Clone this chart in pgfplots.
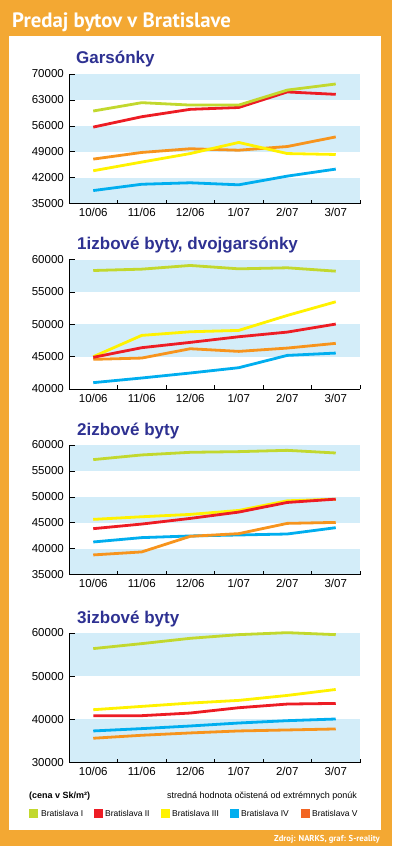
\documentclass[border=0pt]{standalone}
\usepackage{fontspec}
\setmainfont{Liberation Sans}
\newfontfamily\titlefont{PT Sans}
\usepackage{pgfplots}
\pgfplotsset{compat=1.18}
\definecolor{bg}{HTML}{F3A833}
\definecolor{band}{HTML}{D3EDF9}
\definecolor{navy}{HTML}{2E3192}
\definecolor{cI}{HTML}{C2D82E}
\definecolor{cII}{HTML}{ED1C24}
\definecolor{cIII}{HTML}{FFF200}
\definecolor{cIV}{HTML}{00AEEF}
\definecolor{cV}{HTML}{F7941D}
\definecolor{cVleg}{HTML}{F26522}
\pgfplotsset{mychart/.style={
  scale only axis, width=291pt, height=129.5pt,
  xmin=-0.5, xmax=5.5,
  axis x line*=bottom, axis y line*=left,
  axis on top,
  xtick={0,...,5}, xticklabels={10/06,11/06,12/06,1/07,2/07,3/07},
  minor xtick={0.5,1.5,2.5,3.5,4.5,5.5},
  major x tick style={draw=none},
  minor tick length=4pt,
  tick align=inside,
  major tick length=6pt,
  tick style={black, line width=0.6pt},
  axis line style={line width=0.8pt},
  ticklabel style={font=\fontsize{11.5}{12}\selectfont},
  scaled y ticks=false,
  /pgf/number format/assume math mode=true,
  /pgf/number format/1000 sep={},
  yticklabel style={inner sep=0pt, xshift=-5pt},
  xticklabel style={yshift=-1.5pt},
  anchor=north west, clip=false,
  every axis plot/.append style={line width=2.8pt, line join=round, no markers}
}}
\begin{document}
\begin{tikzpicture}
\path[use as bounding box, fill=bg] (0pt,0pt) rectangle (392pt,-846pt);
\fill[white] (9pt,-36pt) rectangle (381pt,-830pt);
\node[anchor=base west, inner sep=0pt, text=white] at (12pt,-27pt) {\titlefont\bfseries\fontsize{20.8}{22}\selectfont Predaj bytov v Bratislave};
\node[anchor=base east, inner sep=0pt, text=white] at (380pt,-841pt) {\titlefont\bfseries\fontsize{8.6}{9}\selectfont Zdroj: NARKS, graf: S-reality};

% Chart 1
\node[anchor=base west, inner sep=0pt, text=navy] at (76pt,-63pt) {\bfseries\fontsize{17}{18}\selectfont Garsónky};
\begin{axis}[mychart, at={(69pt,-74pt)}, ymin=35000, ymax=70000, ytick={35000,42000,49000,56000,63000,70000}]
\addplot[draw=none, fill=band] coordinates {(-0.5,63000) (5.5,63000) (5.5,70000) (-0.5,70000)} -- cycle;
\addplot[draw=none, fill=band] coordinates {(-0.5,49000) (5.5,49000) (5.5,56000) (-0.5,56000)} -- cycle;
\addplot[draw=none, fill=band] coordinates {(-0.5,35000) (5.5,35000) (5.5,42000) (-0.5,42000)} -- cycle;
\addplot[cIV] coordinates {(0,38500) (1,40200) (2,40600) (3,40050) (4,42400) (5,44300)};
\addplot[cV] coordinates {(0,47000) (1,48800) (2,49800) (3,49400) (4,50400) (5,53000)};
\addplot[cIII] coordinates {(0,43850) (1,46200) (2,48500) (3,51500) (4,48500) (5,48250)};
\addplot[cII] coordinates {(0,55650) (1,58450) (2,60450) (3,60950) (4,65150) (5,64500)};
\addplot[cI] coordinates {(0,60000) (1,62250) (2,61600) (3,61600) (4,65650) (5,67300)};
\end{axis}

% Chart 2
\node[anchor=base west, inner sep=0pt, text=navy] at (77pt,-249pt) {\bfseries\fontsize{17}{18}\selectfont 1izbové byty, dvojgarsónky};
\begin{axis}[mychart, at={(69pt,-259.5pt)}, ymin=40000, ymax=60000, ytick={40000,45000,...,60000}]
\addplot[draw=none, fill=band] coordinates {(-0.5,55000) (5.5,55000) (5.5,60000) (-0.5,60000)} -- cycle;
\addplot[draw=none, fill=band] coordinates {(-0.5,45000) (5.5,45000) (5.5,50000) (-0.5,50000)} -- cycle;
\addplot[cIV] coordinates {(0,40980) (1,41700) (2,42470) (3,43290) (4,45190) (5,45550)};
\addplot[cV] coordinates {(0,44580) (1,44780) (2,46220) (3,45810) (4,46320) (5,47050)};
\addplot[cIII] coordinates {(0,44990) (1,48280) (2,48840) (3,49050) (4,51360) (5,53470)};
\addplot[cII] coordinates {(0,44890) (1,46380) (2,47200) (3,48070) (4,48790) (5,50030)};
\addplot[cI] coordinates {(0,58300) (1,58510) (2,59080) (3,58560) (4,58720) (5,58200)};
\end{axis}

% Chart 3
\node[anchor=base west, inner sep=0pt, text=navy] at (77pt,-435pt) {\bfseries\fontsize{17}{18}\selectfont 2izbové byty};
\begin{axis}[mychart, at={(69pt,-445pt)}, ymin=35000, ymax=60000, ytick={35000,40000,...,60000}]
\addplot[draw=none, fill=band] coordinates {(-0.5,55000) (5.5,55000) (5.5,60000) (-0.5,60000)} -- cycle;
\addplot[draw=none, fill=band] coordinates {(-0.5,45000) (5.5,45000) (5.5,50000) (-0.5,50000)} -- cycle;
\addplot[draw=none, fill=band] coordinates {(-0.5,35000) (5.5,35000) (5.5,40000) (-0.5,40000)} -- cycle;
\addplot[cIV] coordinates {(0,41280) (1,42120) (2,42440) (3,42630) (4,42820) (5,44040)};
\addplot[cV] coordinates {(0,38780) (1,39360) (2,42370) (3,42890) (4,44870) (5,45060)};
\addplot[cIII] coordinates {(0,45640) (1,46150) (2,46600) (3,47370) (4,49230) (5,49550)};
\addplot[cII] coordinates {(0,43850) (1,44740) (2,45830) (3,47050) (4,48910) (5,49550)};
\addplot[cI] coordinates {(0,57180) (1,58080) (2,58590) (3,58720) (4,58970) (5,58460)};
\end{axis}

% Chart 4
\node[anchor=base west, inner sep=0pt, text=navy] at (77pt,-623pt) {\bfseries\fontsize{17}{18}\selectfont 3izbové byty};
\begin{axis}[mychart, at={(69pt,-633pt)}, ymin=30000, ymax=60000, ytick={30000,40000,50000,60000}]
\addplot[draw=none, fill=band] coordinates {(-0.5,50000) (5.5,50000) (5.5,60000) (-0.5,60000)} -- cycle;
\addplot[draw=none, fill=band] coordinates {(-0.5,30000) (5.5,30000) (5.5,40000) (-0.5,40000)} -- cycle;
\addplot[cV] coordinates {(0,35620) (1,36310) (2,36850) (3,37310) (4,37540) (5,37770)};
\addplot[cIV] coordinates {(0,37310) (1,37850) (2,38460) (3,39150) (4,39690) (5,40080)};
\addplot[cII] coordinates {(0,40850) (1,40850) (2,41460) (3,42690) (4,43540) (5,43690)};
\addplot[cIII] coordinates {(0,42230) (1,43000) (2,43770) (3,44390) (4,45540) (5,46920)};
\addplot[cI] coordinates {(0,56390) (1,57540) (2,58770) (3,59620) (4,60080) (5,59620)};
\end{axis}

% Footer notes
\node[anchor=base west, inner sep=0pt] at (29pt,-798pt) {\bfseries\fontsize{9}{10}\selectfont (cena v Sk/m²)};
\node[anchor=base east, inner sep=0pt] at (357pt,-798pt) {\fontsize{9}{10}\selectfont stredná hodnota očistená od extrémnych ponúk};
% Legend
\fill[cI] (29pt,-809pt) rectangle (37.5pt,-817.5pt);
\node[anchor=base west, inner sep=0pt] at (41pt,-816.5pt) {\fontsize{8.5}{9}\selectfont Bratislava I};
\fill[cII] (94pt,-809pt) rectangle (102.5pt,-817.5pt);
\node[anchor=base west, inner sep=0pt] at (105pt,-816.5pt) {\fontsize{8.5}{9}\selectfont Bratislava II};
\fill[cIII] (161pt,-809pt) rectangle (169.5pt,-817.5pt);
\node[anchor=base west, inner sep=0pt] at (172pt,-816.5pt) {\fontsize{8.5}{9}\selectfont Bratislava III};
\fill[cIV] (230pt,-809pt) rectangle (238.5pt,-817.5pt);
\node[anchor=base west, inner sep=0pt] at (241pt,-816.5pt) {\fontsize{8.5}{9}\selectfont Bratislava IV};
\fill[cVleg] (301pt,-809pt) rectangle (309.5pt,-817.5pt);
\node[anchor=base west, inner sep=0pt] at (312pt,-816.5pt) {\fontsize{8.5}{9}\selectfont Bratislava V};
\end{tikzpicture}
\end{document}
